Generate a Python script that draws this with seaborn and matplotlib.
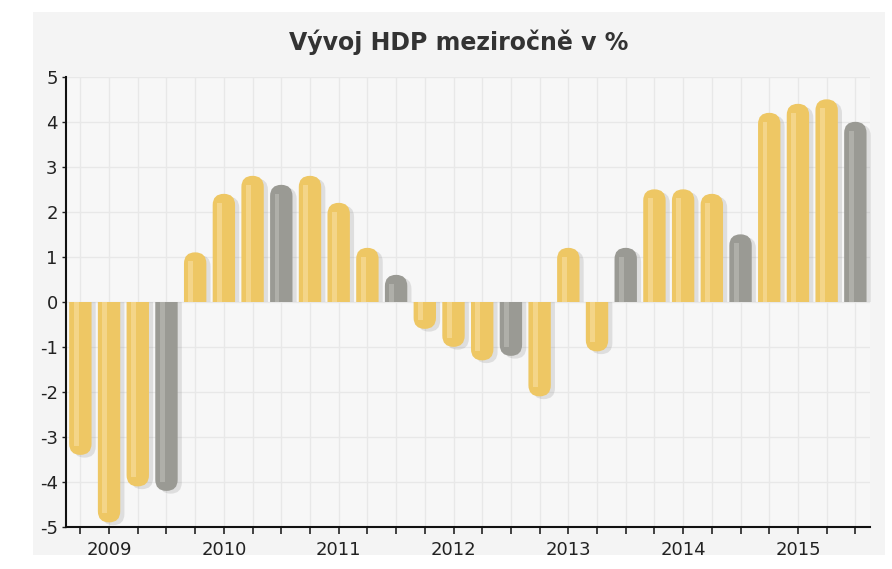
import numpy as np
import pandas as pd
import matplotlib
matplotlib.use("Agg")
import matplotlib.pyplot as plt
import matplotlib.patheffects as pe
from matplotlib.patches import FancyBboxPatch, Rectangle
import seaborn as sns

# data
years = [2009, 2010, 2011, 2012, 2013, 2014, 2015]
quarters = ["Q1", "Q2", "Q3", "Q4"]
hdp = [-3.4, -4.9, -4.1, -4.2,
       1.1, 2.4, 2.8, 2.6,
       2.8, 2.2, 1.2, 0.6,
       -0.6, -1.0, -1.3, -1.2,
       -2.1, 1.2, -1.1, 1.2,
       2.5, 2.5, 2.4, 1.5,
       4.2, 4.4, 4.5, 4.0]

df = pd.DataFrame({
    'rok': np.repeat(years, 4),
    'kvartal': quarters * len(years),
    'hdp': hdp,
})
df['obdobi'] = df['rok'].astype(str) + " " + df['kvartal']
df['typ'] = np.where(df['kvartal'] == "Q4", "Q4", "Q1-Q3")

yellow = "#eec764"
gray = "#9a9a94"
light = {yellow: "#f7dc9a", gray: "#b9b9b3"}

sns.set_style("white")
plt.rcParams['axes.unicode_minus'] = False
fig = plt.figure(figsize=(8.92, 5.69), dpi=100, facecolor="white")
fig.patches.append(Rectangle((0.037, 0.025), 0.955, 0.954, transform=fig.transFigure,
                             facecolor="#F4F4F4", edgecolor="none", zorder=-10))
ax = fig.add_axes([0.074, 0.074, 0.901, 0.791])
ax.set_facecolor("#F7F7F7")

sns.barplot(data=df, x='obdobi', y='hdp', hue='typ', order=list(df['obdobi']),
            palette={"Q1-Q3": yellow, "Q4": gray}, dodge=False, legend=False,
            width=0.78, saturation=1, ax=ax)

ax.set_xlim(-0.5, len(df) - 0.5)
ax.set_ylim(-5, 5)

# replace the square bars with rounded ones
bb = ax.get_window_extent()
px = bb.width / (len(df))
py = bb.height / 10.0
asp = px / py
shadow = [pe.SimplePatchShadow(offset=(3, -2), shadow_rgbFace="#888888", alpha=0.22), pe.Normal()]
bars = [p for p in ax.patches if isinstance(p, Rectangle)]
for p in bars:
    x0, w, h = p.get_x(), p.get_width(), p.get_height()
    if abs(h) < 1e-9:
        continue
    col = matplotlib.colors.to_hex(p.get_facecolor()).lower()
    p.set_visible(False)
    s = np.sign(h)
    r = w / 2
    ry = r * asp
    y0 = min(-s * ry, h)
    bar = FancyBboxPatch((x0, y0), w, abs(h) + ry,
                         boxstyle=f"round,pad=0,rounding_size={r}",
                         mutation_aspect=asp, facecolor=col, edgecolor="none", zorder=3)
    bar.set_path_effects(shadow)
    ax.add_patch(bar)
    clip = Rectangle((x0 - 1, 0), w + 2, s * 10, transform=ax.transData)
    bar.set_clip_path(clip)
    # light stripe
    hl = h - s * ry * 0.8
    if abs(hl) > 0:
        ax.add_patch(Rectangle((x0 + 0.2 * w, 0), 0.22 * w, hl,
                               facecolor=light.get(col, "#f7dc9a"), edgecolor="none",
                               alpha=0.7, zorder=4))

ax.set_yticks(range(-5, 6))
labels = [str(r) if q == "Q2" else "" for r, q in zip(df['rok'], df['kvartal'])]
ax.set_xticks(range(len(df)))
ax.set_xticklabels(labels)
ax.set_xlabel("")
ax.set_ylabel("")
ax.grid(True, color="#E8E8E8", lw=1)
ax.set_axisbelow(True)
for sp in ["top", "right"]:
    ax.spines[sp].set_visible(False)
for sp in ["left", "bottom"]:
    ax.spines[sp].set_color("#111111")
    ax.spines[sp].set_linewidth(1.5)
ax.tick_params(axis="x", direction="out", length=5, width=1.2, pad=5,
               labelsize=13, colors="#222222", bottom=True)
ax.tick_params(axis="y", direction="out", length=3, width=1, pad=3,
               labelsize=13, colors="#222222", left=True)

fig.text(0.514, 0.926, "Vývoj HDP meziročně v %", ha="center", va="center",
         fontsize=17, fontweight="bold", color="#333333")

fig.savefig("out.png", dpi=100, facecolor="white")
